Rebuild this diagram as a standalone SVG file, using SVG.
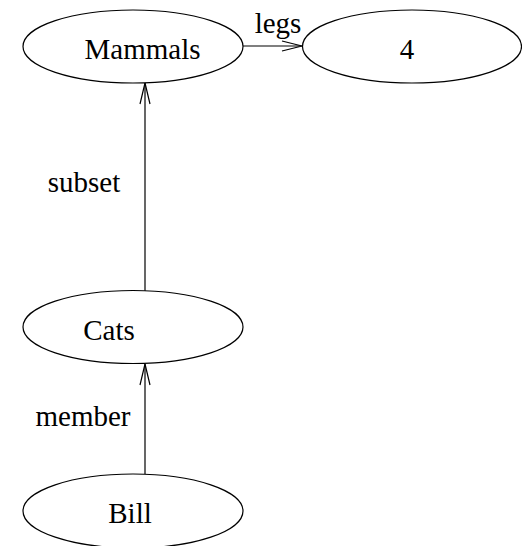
<svg xmlns="http://www.w3.org/2000/svg" width="522" height="546" viewBox="0 0 522 546">
  <style>
    .node ellipse { fill: #ffffff; stroke: #000000; stroke-width: 1.2; }
    text { font-family: "Liberation Serif", "Times New Roman", serif; font-size: 29px; fill: #000000; }
    .label { text-anchor: middle; }
    .edge { fill: none; stroke: #000000; stroke-width: 1.2; }
    .head { fill: none; stroke: #000000; stroke-width: 1.2; }
  </style>
  <rect width="522" height="546" fill="#ffffff"/>

  <!-- relations -->
  <g id="connectors">
    <!-- Mammals -legs-> 4 -->
    <line class="edge" x1="243" y1="46" x2="302" y2="46"/>
    <polyline class="head" points="282,41 302,46 282,51"/>
    <text x="278" y="33" class="label">legs</text>

    <!-- Cats -subset-> Mammals -->
    <line class="edge" x1="145" y1="291" x2="145" y2="83"/>
    <polyline class="head" points="140,104 145,83 150,104"/>
    <text x="84" y="192" class="label">subset</text>

    <!-- Bill -member-> Cats -->
    <line class="edge" x1="145" y1="474" x2="145" y2="364"/>
    <polyline class="head" points="140,385 145,364 150,385"/>
    <text x="83" y="426" class="label">member</text>
  </g>

  <g id="node-mammals" class="node">
    <ellipse cx="133" cy="46.5" rx="110" ry="36.5"/>
    <text x="142.5" y="59" class="label">Mammals</text>
  </g>

  <g id="node-4" class="node">
    <ellipse cx="412" cy="46.5" rx="109.5" ry="36.5"/>
    <text x="407" y="59" class="label">4</text>
  </g>

  <g id="node-cats" class="node">
    <ellipse cx="133" cy="327" rx="110" ry="36.5"/>
    <text x="109" y="340" class="label">Cats</text>
  </g>

  <g id="node-bill" class="node">
    <ellipse cx="133" cy="511" rx="110" ry="37"/>
    <text x="130" y="523" class="label">Bill</text>
  </g>
</svg>
